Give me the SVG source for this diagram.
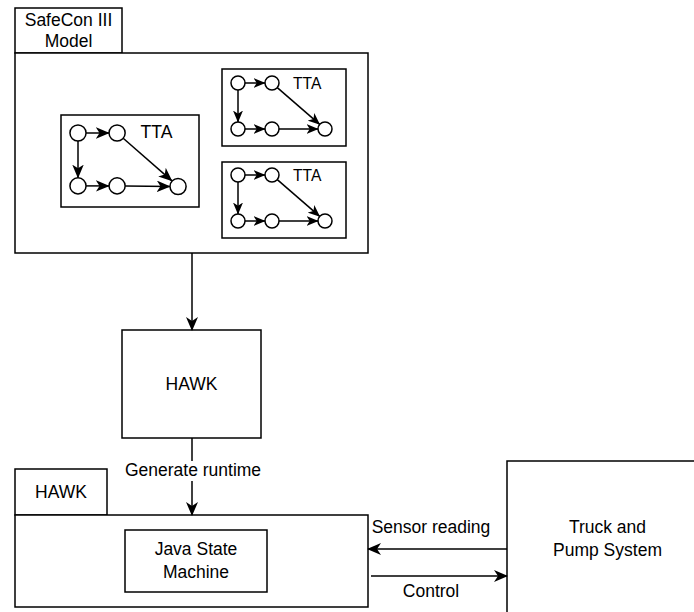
<svg xmlns="http://www.w3.org/2000/svg" width="694" height="612" viewBox="0 0 694 612">
  <defs>
    <style>
      .box { fill: #ffffff; stroke: #000000; stroke-width: 1.5; }
      .t { font-family: "Liberation Sans", Arial, Helvetica, sans-serif; font-size: 17.5px; fill: #000000; text-anchor: middle; }
      .tta-label { font-family: "Liberation Sans", Arial, Helvetica, sans-serif; fill: #000000; }
      .edge { fill: none; stroke: #000000; stroke-width: 1.5; }
      .state { fill: #ffffff; stroke: #000000; stroke-width: 1.5; vector-effect: non-scaling-stroke; }
      .sedge { fill: none; stroke: #000000; stroke-width: 1.5; vector-effect: non-scaling-stroke; }
    </style>
    <!-- classic filled arrowhead with a notch -->
    <marker id="arrow" markerUnits="userSpaceOnUse" viewBox="0 0 14 12" refX="13" refY="6" markerWidth="14" markerHeight="12" orient="auto">
      <path d="M0,0 L14,6 L0,12 L4,6 Z" fill="#000000"/>
    </marker>
    <marker id="arrow-s" markerUnits="userSpaceOnUse" viewBox="0 0 12 10" refX="11.5" refY="5" markerWidth="12" markerHeight="10" orient="auto">
      <path d="M0,0 L12,5 L0,10 L3.2,5 Z" fill="#000000"/>
    </marker>
  </defs>

  <rect x="0" y="0" width="694" height="612" fill="#ffffff"/>

  <!-- SafeCon III model container -->
  <g id="safecon-model">
    <rect class="box" x="15" y="8" width="107" height="45"/>
    <rect class="box" x="15" y="53" width="353" height="200"/>
    <text class="t" x="68.5" y="26">SafeCon III</text>
    <text class="t" x="68.5" y="46.5">Model</text>
  </g>

  <!-- timed automata, drawn in local coordinates -->
  <g id="tta-1">
    <rect class="box" x="61" y="115" width="138" height="92"/>
    <g transform="translate(78,133) scale(1.15)">
      <g class="tta-edges">
        <line class="sedge" x1="7" y1="0" x2="27" y2="0" marker-end="url(#arrow-s)"/>
        <line class="sedge" x1="0" y1="7" x2="0" y2="39" marker-end="url(#arrow-s)"/>
        <line class="sedge" x1="7" y1="46" x2="27" y2="46" marker-end="url(#arrow-s)"/>
        <line class="sedge" x1="41" y1="46" x2="80" y2="46.5" marker-end="url(#arrow-s)"/>
        <line class="sedge" x1="39.3" y1="4.6" x2="81.7" y2="41.6" marker-end="url(#arrow-s)"/>
      </g>
      <circle class="state" cx="0" cy="0" r="7"/>
      <circle class="state" cx="34" cy="0" r="7"/>
      <circle class="state" cx="0" cy="46" r="7"/>
      <circle class="state" cx="34" cy="46" r="7"/>
      <circle class="state" cx="87" cy="46.5" r="7"/>
    </g>
    <text class="tta-label" x="140.5" y="138" font-size="17.6">TTA</text>
  </g>

  <g id="tta-2">
    <rect class="box" x="222" y="69" width="124" height="77"/>
    <g transform="translate(238,83)">
      <g class="tta-edges">
        <line class="sedge" x1="7" y1="0" x2="27" y2="0" marker-end="url(#arrow-s)"/>
        <line class="sedge" x1="0" y1="7" x2="0" y2="39" marker-end="url(#arrow-s)"/>
        <line class="sedge" x1="7" y1="46" x2="27" y2="46" marker-end="url(#arrow-s)"/>
        <line class="sedge" x1="41" y1="46" x2="80" y2="46" marker-end="url(#arrow-s)"/>
        <line class="sedge" x1="39.3" y1="4.6" x2="81.7" y2="41.4" marker-end="url(#arrow-s)"/>
      </g>
      <circle class="state" cx="0" cy="0" r="7"/>
      <circle class="state" cx="34" cy="0" r="7"/>
      <circle class="state" cx="0" cy="46" r="7"/>
      <circle class="state" cx="34" cy="46" r="7"/>
      <circle class="state" cx="87" cy="46" r="7"/>
    </g>
    <text class="tta-label" x="293" y="88.5" font-size="15.6">TTA</text>
  </g>

  <g id="tta-3">
    <rect class="box" x="222" y="162" width="124" height="76"/>
    <g transform="translate(238,175)">
      <g class="tta-edges">
        <line class="sedge" x1="7" y1="0" x2="27" y2="0" marker-end="url(#arrow-s)"/>
        <line class="sedge" x1="0" y1="7" x2="0" y2="39" marker-end="url(#arrow-s)"/>
        <line class="sedge" x1="7" y1="46" x2="27" y2="46" marker-end="url(#arrow-s)"/>
        <line class="sedge" x1="41" y1="46" x2="80" y2="46" marker-end="url(#arrow-s)"/>
        <line class="sedge" x1="39.3" y1="4.6" x2="81.7" y2="41.4" marker-end="url(#arrow-s)"/>
      </g>
      <circle class="state" cx="0" cy="0" r="7"/>
      <circle class="state" cx="34" cy="0" r="7"/>
      <circle class="state" cx="0" cy="46" r="7"/>
      <circle class="state" cx="34" cy="46" r="7"/>
      <circle class="state" cx="87" cy="46" r="7"/>
    </g>
    <text class="tta-label" x="293" y="180.5" font-size="15.6">TTA</text>
  </g>

  <!-- HAWK tool -->
  <g id="hawk">
    <rect class="box" x="122" y="330" width="139" height="108"/>
    <text class="t" x="191.5" y="390">HAWK</text>
  </g>

  <!-- HAWK runtime container -->
  <g id="hawk-runtime">
    <rect class="box" x="15" y="469" width="92" height="46"/>
    <rect class="box" x="15" y="515" width="353" height="92"/>
    <text class="t" x="61" y="498">HAWK</text>
  </g>

  <g id="java-state-machine">
    <rect class="box" x="125" y="530" width="142" height="62"/>
    <text class="t" x="196" y="555">Java State</text>
    <text class="t" x="196" y="578">Machine</text>
  </g>

  <g id="truck-pump">
    <rect class="box" x="507" y="461" width="202" height="160"/>
    <text class="t" x="607.5" y="533">Truck and</text>
    <text class="t" x="607.5" y="556">Pump System</text>
  </g>

  <g id="connectors">
    <line class="edge" x1="192" y1="253" x2="192" y2="330" marker-end="url(#arrow)"/>
    <line class="edge" x1="192" y1="438" x2="192" y2="515" marker-end="url(#arrow)"/>
    <rect x="124" y="461" width="138" height="20" fill="#ffffff"/>
    <text class="t" x="193" y="476">Generate runtime</text>
    <line class="edge" x1="507" y1="549" x2="368" y2="549" marker-end="url(#arrow)"/>
    <text class="t" x="431" y="533">Sensor reading</text>
    <line class="edge" x1="371" y1="576" x2="507" y2="576" marker-end="url(#arrow)"/>
    <text class="t" x="431" y="597">Control</text>
  </g>
</svg>
